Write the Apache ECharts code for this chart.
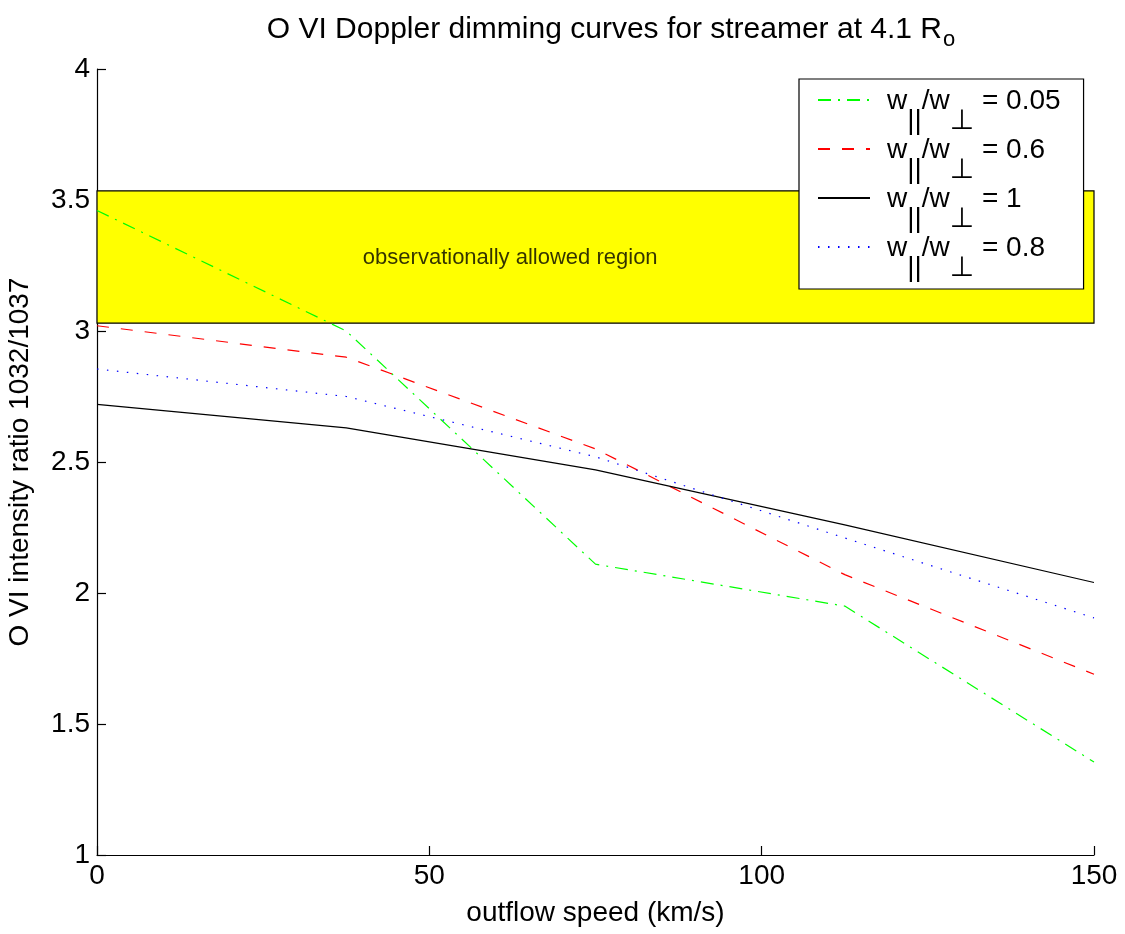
<!DOCTYPE html>
<html>
<head>
<meta charset="utf-8">
<script src="https://cdn.jsdelivr.net/npm/echarts@6/dist/echarts.min.js"></script>
<style>
html,body{margin:0;padding:0;background:#fff;}
#chart{width:1125px;height:934px;}
</style>
</head>
<body>
<div id="chart"></div>
<script>
// ---- data ----
const speeds = [0, 37.5, 75, 112.5, 150];
const ratio005 = [3.46, 3.00, 2.11, 1.95, 1.355];
const ratio06  = [3.02, 2.90, 2.55, 2.07, 1.69];
const ratio1   = [2.72, 2.63, 2.47, 2.26, 2.04];
const ratio08  = [2.855, 2.75, 2.52, 2.21, 1.905];
const seriesNames = ['0.05', '0.6', '1', '0.8'];
const allowedBand = [3.03, 3.535];
const bandLabelAt = [40, 3.28];
const bandLabel = 'observationally allowed region';
const xTicks = [0, 50, 100, 150];
const yTicks = [1, 1.5, 2, 2.5, 3, 3.5, 4];

const FONT = "'Liberation Sans', Arial, Helvetica, 'DejaVu Sans', sans-serif";

function pairs(ys) { return speeds.map((x, i) => [x, ys[i]]); }
function legendName(v) { return 'w||/w⊥ = ' + v; }

const chart = echarts.init(document.getElementById('chart'), null, {renderer: 'canvas'});

const lineDefs = [
  {v: seriesNames[0], data: ratio005, color: '#00ff00', type: [13, 7, 2, 7]},
  {v: seriesNames[1], data: ratio06,  color: '#ff0000', type: [12, 12]},
  {v: seriesNames[2], data: ratio1,   color: '#000000', type: 'solid'},
  {v: seriesNames[3], data: ratio08,  color: '#0000ff', type: [1.5, 8.5]}
];

const series = [
  {
    name: 'band',
    type: 'line',
    data: [],
    z: 1,
    silent: true,
    markArea: {
      silent: true,
      itemStyle: {color: '#ffff00', borderColor: '#000', borderWidth: 1.2},
      label: {show: false},
      data: [[{xAxis: xTicks[0], yAxis: allowedBand[0]}, {xAxis: xTicks[xTicks.length - 1], yAxis: allowedBand[1]}]]
    }
  },
  {
    name: 'bandlabel',
    type: 'scatter',
    z: 3,
    silent: true,
    symbolSize: 0,
    data: [bandLabelAt],
    label: {
      show: true,
      position: 'inside',
      align: 'left',
      formatter: bandLabel,
      color: '#000',
      textBorderWidth: 0,
      fontSize: 22,
      fontFamily: FONT
    }
  }
].concat(lineDefs.map(d => ({
  name: legendName(d.v),
  type: 'line',
  z: 2,
  data: pairs(d.data),
  symbol: 'none',
  showSymbol: false,
  smooth: false,
  itemStyle: {color: d.color, opacity: 0},
  lineStyle: {color: d.color, width: 1.2, type: d.type, opacity: 1}
})));

const option = {
  backgroundColor: '#fff',
  animation: false,
  title: {
    text: '{a|O VI Doppler dimming curves for streamer at 4.1 R}{b|o}',
    left: 606,
    textAlign: 'center',
    top: 10,
    textStyle: {
      fontWeight: 'normal',
      rich: {
        a: {fontSize: 30, fontWeight: 'normal', fontFamily: FONT, color: '#000', lineHeight: 30, verticalAlign: 'top'},
        b: {fontSize: 22, fontWeight: 'normal', fontFamily: FONT, color: '#000', lineHeight: 24, padding: [14, 0, 0, 1], verticalAlign: 'top'}
      }
    }
  },
  grid: {left: 97, right: 31, top: 69, bottom: 79, containLabel: false, outerBoundsMode: 'none'},
  legend: {
    data: lineDefs.map(d => legendName(d.v)),
    orient: 'vertical',
    left: 799,
    top: 79,
    itemWidth: 52,
    itemHeight: 14,
    itemGap: 1,
    padding: [8, 23, 7, 18],
    backgroundColor: '#fff',
    borderColor: '#000',
    borderWidth: 1.2,
    borderRadius: 0,
    selectedMode: false,
    itemStyle: {opacity: 0},
    formatter: function (name) {
      const v = name.split('= ')[1];
      return '{p|w}{s|||}{n|/w}{s|⊥}{n| = ' + v + '}';
    },
    textStyle: {
      rich: {
        p: {fontSize: 28, fontFamily: FONT, color: '#000', lineHeight: 26, verticalAlign: 'top', padding: [0, 0, 0, 12]},
        n: {fontSize: 28, fontFamily: FONT, color: '#000', lineHeight: 26, verticalAlign: 'top'},
        s: {fontSize: 28, fontFamily: FONT, color: '#000', lineHeight: 26, verticalAlign: 'top', padding: [20, 0, 0, 0]}
      }
    }
  },
  xAxis: {
    type: 'value',
    min: xTicks[0],
    max: xTicks[xTicks.length - 1],
    interval: xTicks[1] - xTicks[0],
    name: 'outflow speed (km/s)',
    nameLocation: 'middle',
    nameGap: 44,
    nameTextStyle: {fontSize: 28, fontFamily: FONT, color: '#000'},
    axisLine: {show: true, onZero: false, lineStyle: {color: '#000', width: 1.2}},
    axisTick: {show: true, inside: true, length: 9, lineStyle: {color: '#000', width: 1.2}},
    axisLabel: {fontSize: 28, fontFamily: FONT, color: '#000', margin: 7},
    splitLine: {show: false}
  },
  yAxis: {
    type: 'value',
    min: yTicks[0],
    max: yTicks[yTicks.length - 1],
    interval: yTicks[1] - yTicks[0],
    name: 'O VI intensity ratio 1032/1037',
    nameLocation: 'middle',
    nameGap: 63,
    nameTextStyle: {fontSize: 28, fontFamily: FONT, color: '#000'},
    axisLine: {show: true, onZero: false, lineStyle: {color: '#000', width: 1.2}},
    axisTick: {show: true, inside: true, length: 9, lineStyle: {color: '#000', width: 1.2}},
    axisLabel: {fontSize: 28, fontFamily: FONT, color: '#000', margin: 7},
    splitLine: {show: false}
  },
  series: series
};

chart.setOption(option);
</script>
</body>
</html>
